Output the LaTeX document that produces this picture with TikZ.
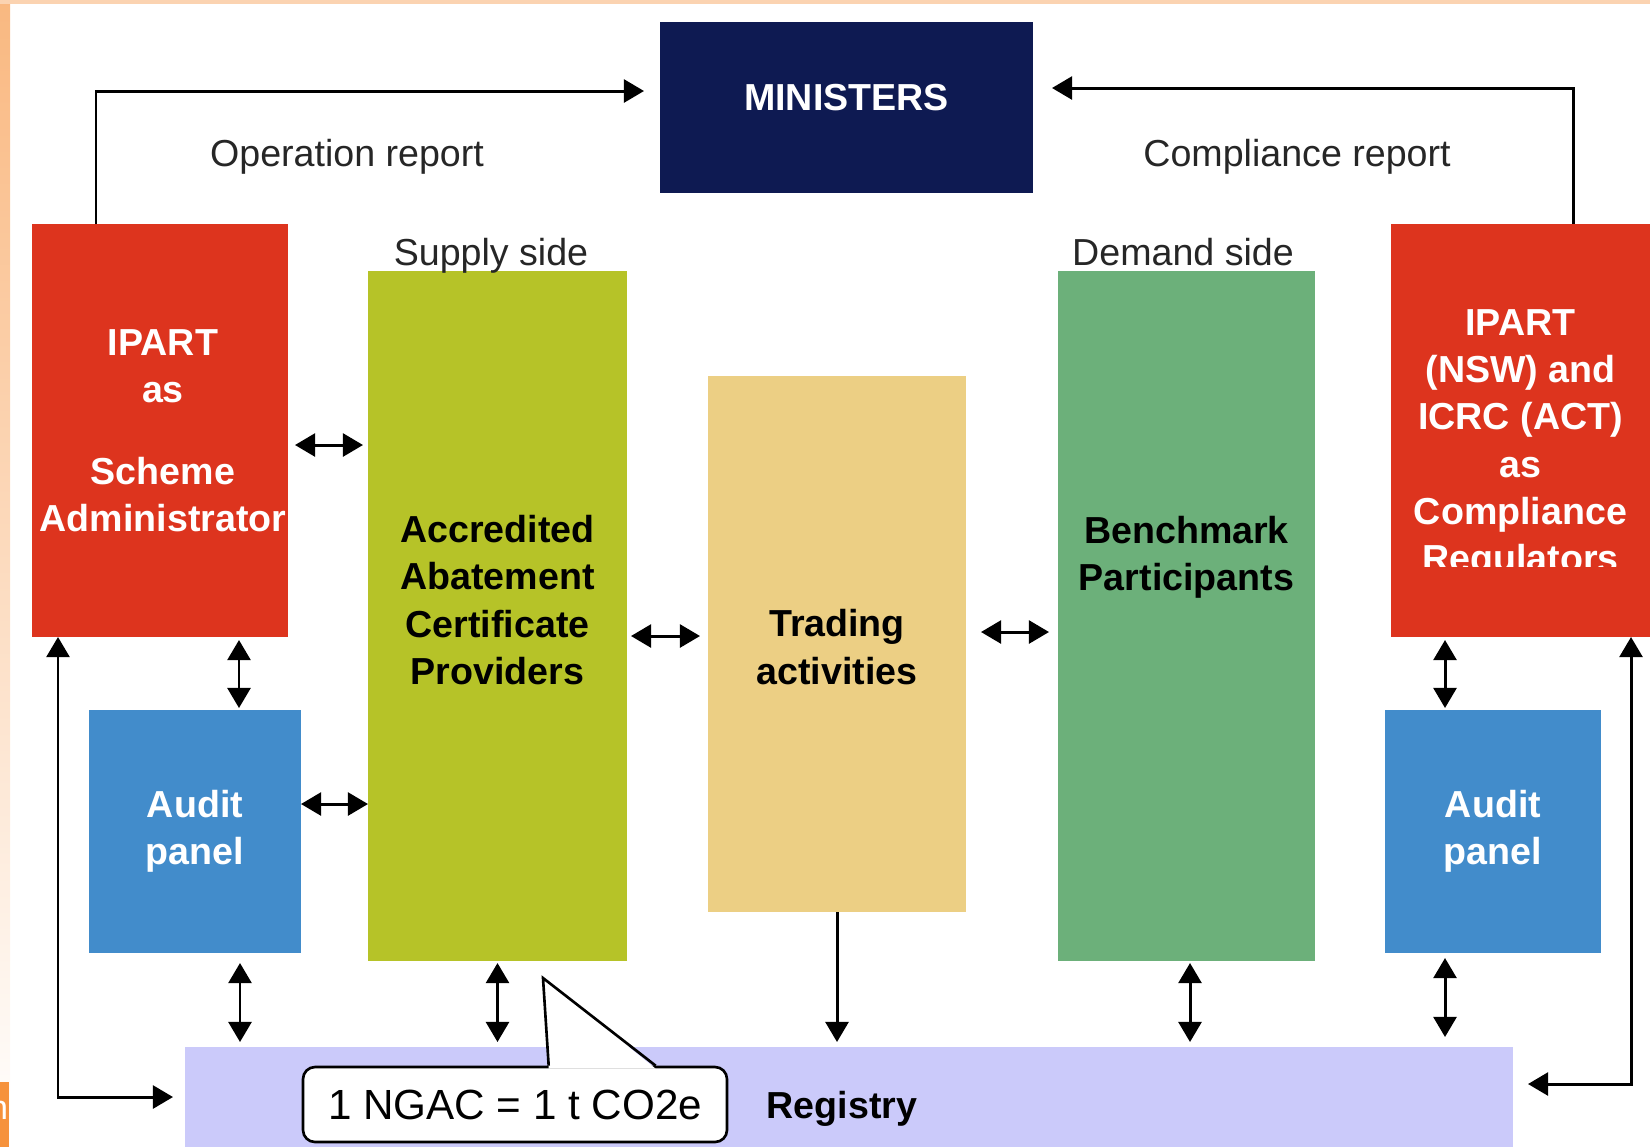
\documentclass[tikz,border=0pt]{standalone}
\usepackage{fontspec}
\setmainfont{Liberation Sans}
\usetikzlibrary{arrows.meta, positioning}

\definecolor{navybox}{RGB}{14,26,82}
\definecolor{redbox}{RGB}{221,52,30}
\definecolor{limebox}{RGB}{182,195,40}
\definecolor{sandbox}{RGB}{236,207,132}
\definecolor{greenbox}{RGB}{108,176,122}
\definecolor{bluebox}{RGB}{66,140,203}
\definecolor{regbox}{RGB}{203,202,250}
\definecolor{slideorange}{RGB}{246,146,60}

\begin{document}
\begin{tikzpicture}[x=0.1mm, y=-0.1mm,
  box/.style={inner sep=0pt, outer sep=0pt},
  boxtext/.style={align=center, inner sep=0pt, font=\bfseries\fontsize{10.7}{13.4}\selectfont},
  note/.style={inner sep=0pt, text=black!85, font=\fontsize{10.7}{13}\selectfont},
  link/.style={line width=0.85pt, -{Triangle[length=5.7pt,width=6.5pt]}},
  both/.style={line width=0.85pt, {Triangle[length=5.7pt,width=6.5pt]}-{Triangle[length=5.7pt,width=6.5pt]}}]
\useasboundingbox (0,0) rectangle (1650,1147);
% slide edge
\shade [top color=slideorange!65, bottom color=white] (0,0) rectangle (10,1147);
\fill [slideorange!40] (0,0) rectangle (1650,4);
\fill [slideorange] (0,1082) rectangle (9,1147);
\begin{scope}
\clip (0,1082) rectangle (9,1147);
\node [text=white, inner sep=0pt, font=\fontsize{9.7}{11}\selectfont] (edgen) at (-1.5,1110) {n};
\end{scope}

% boxes
\node [box, fill=navybox, minimum width=37.3mm, minimum height=17.1mm,
  label={[boxtext, text=white, yshift=1mm]center:MINISTERS}] (ministers) at (846.5,107.5) {};
\node [box, fill=redbox, minimum width=25.6mm, minimum height=41.3mm,
  label={[boxtext, text=white, xshift=0.3mm]center:IPART\\as\\[10pt]Scheme\\Administrator}] (ipart) at (160,430.5) {};
\node [box, fill=limebox, minimum width=25.9mm, minimum height=69mm,
  label={[boxtext, yshift=1.6mm]center:Accredited\\Abatement\\Certificate\\Providers}] (supply) at (497.5,616) {};
\node [box, fill=sandbox, minimum width=25.8mm, minimum height=53.6mm,
  label={[boxtext, yshift=-0.3mm]center:Trading\\activities}] (trading) at (837,644) {};
\node [box, fill=greenbox, minimum width=25.7mm, minimum height=69mm,
  label={[boxtext, yshift=5.9mm]center:Benchmark\\Participants}] (bench) at (1186.5,616) {};
\node [box, fill=redbox, minimum width=25.9mm, minimum height=41.3mm,
  label={[boxtext, text=white, yshift=-1.4mm]center:IPART\\(NSW) and\\ICRC (ACT)\\as\\Compliance\\Regulators}] (regulator) at (1520.5,430.5) {};
% text frame cuts the last line
\fill [redbox] (regulator.south west) rectangle ([yshift=7mm]regulator.south east);
\node [box, fill=bluebox, minimum width=21.2mm, minimum height=24.3mm,
  label={[boxtext, text=white]center:Audit\\panel}] (auditL) at (195,831.5) {};
\node [box, fill=bluebox, minimum width=21.6mm, minimum height=24.3mm,
  label={[boxtext, text=white]center:Audit\\panel}] (auditR) at (1493,831.5) {};
\node [box, fill=regbox, minimum width=132.8mm, minimum height=10mm,
  label={[boxtext, xshift=-0.7mm, yshift=-1.15mm]center:Registry}] (registry) at (849,1097) {};

% side headings and report labels
\node [note, anchor=base] (supplyside) at (491,265) {Supply side};
\node [note, anchor=base] (demandside) at (1183,265) {Demand side};
\node [note] (oprep) at (347,157) {Operation report};
\node [note] (comprep) at (1297,157) {Compliance report};

% reports to the ministers
\draw [link] ([xshift=6.4mm]ipart.north west) |- ([xshift=-1.6mm,yshift=-6.9mm]ministers.north west);
\draw [link] ([xshift=-7.7mm]regulator.north east) |- ([xshift=1.9mm,yshift=-6.6mm]ministers.north east);

% sideways exchanges
\draw [both] ([xshift=0.7mm,yshift=-1.45mm]ipart.east) -- ([xshift=-0.5mm,yshift=-1.45mm]ipart.east -| supply.west);
\draw [both] ([yshift=2.75mm]auditL.east) -- ([yshift=2.75mm]auditL.east -| supply.west);
\draw [both] ([xshift=0.4mm,yshift=-2mm]supply.east) -- ([xshift=-0.8mm,yshift=-2mm]supply.east -| trading.west);
\draw [both] ([xshift=1.5mm,yshift=1.2mm]trading.east) -- ([xshift=-0.9mm,yshift=1.2mm]trading.east -| bench.west);

% up and down
\draw [both] ([xshift=4.4mm,yshift=-0.3mm]auditL.north |- ipart.south) -- ([xshift=4.4mm,yshift=0.2mm]auditL.north);
\draw [both] ([xshift=4.5mm,yshift=-1mm]auditL.south) -- ([xshift=4.5mm,yshift=0.5mm]auditL.south |- registry.north);
\draw [both] ([yshift=-0.2mm]supply.south) -- ([yshift=0.5mm]registry.north -| supply.south);
\draw [link] (trading.south) -- ([yshift=0.5mm]registry.north -| trading.south);
\draw [both] ([xshift=0.35mm,yshift=-0.2mm]bench.south) -- ([xshift=0.35mm,yshift=0.5mm]registry.north -| bench.south);
\draw [both] ([xshift=-4.8mm,yshift=-0.3mm]auditR.north |- regulator.south) -- ([xshift=-4.8mm,yshift=0.2mm]auditR.north);
\draw [both] ([xshift=-4.8mm,yshift=-0.5mm]auditR.south) -- ([xshift=-4.8mm,yshift=1mm]auditR.south |- registry.north);

% regulators and administrator back to the registry
\draw [both] ([xshift=2.6mm]ipart.south west) |- ([xshift=-1.2mm]registry.west);
\draw [both] ([xshift=-1.9mm]regulator.south east) |- ([xshift=1.5mm,yshift=1.3mm]registry.east);

% certificate callout
\node [draw, fill=white, line width=0.75pt, rounded corners=1.2mm, inner sep=0pt,
  minimum width=42.4mm, minimum height=7.5mm, font=\fontsize{12}{14}\selectfont] (ngac) at (515,1104.5) {1 NGAC = 1 t CO2e};
\coordinate (tip) at (543,978);
\fill [white] ([xshift=24.7mm,yshift=-0.3mm]ngac.north west) -- (tip) -- ([xshift=35.4mm,yshift=-0.3mm]ngac.north west) -- cycle;
\draw [line width=0.75pt] ([xshift=24.7mm]ngac.north west) -- (tip) -- ([xshift=35.4mm]ngac.north west);
\end{tikzpicture}
\end{document}
